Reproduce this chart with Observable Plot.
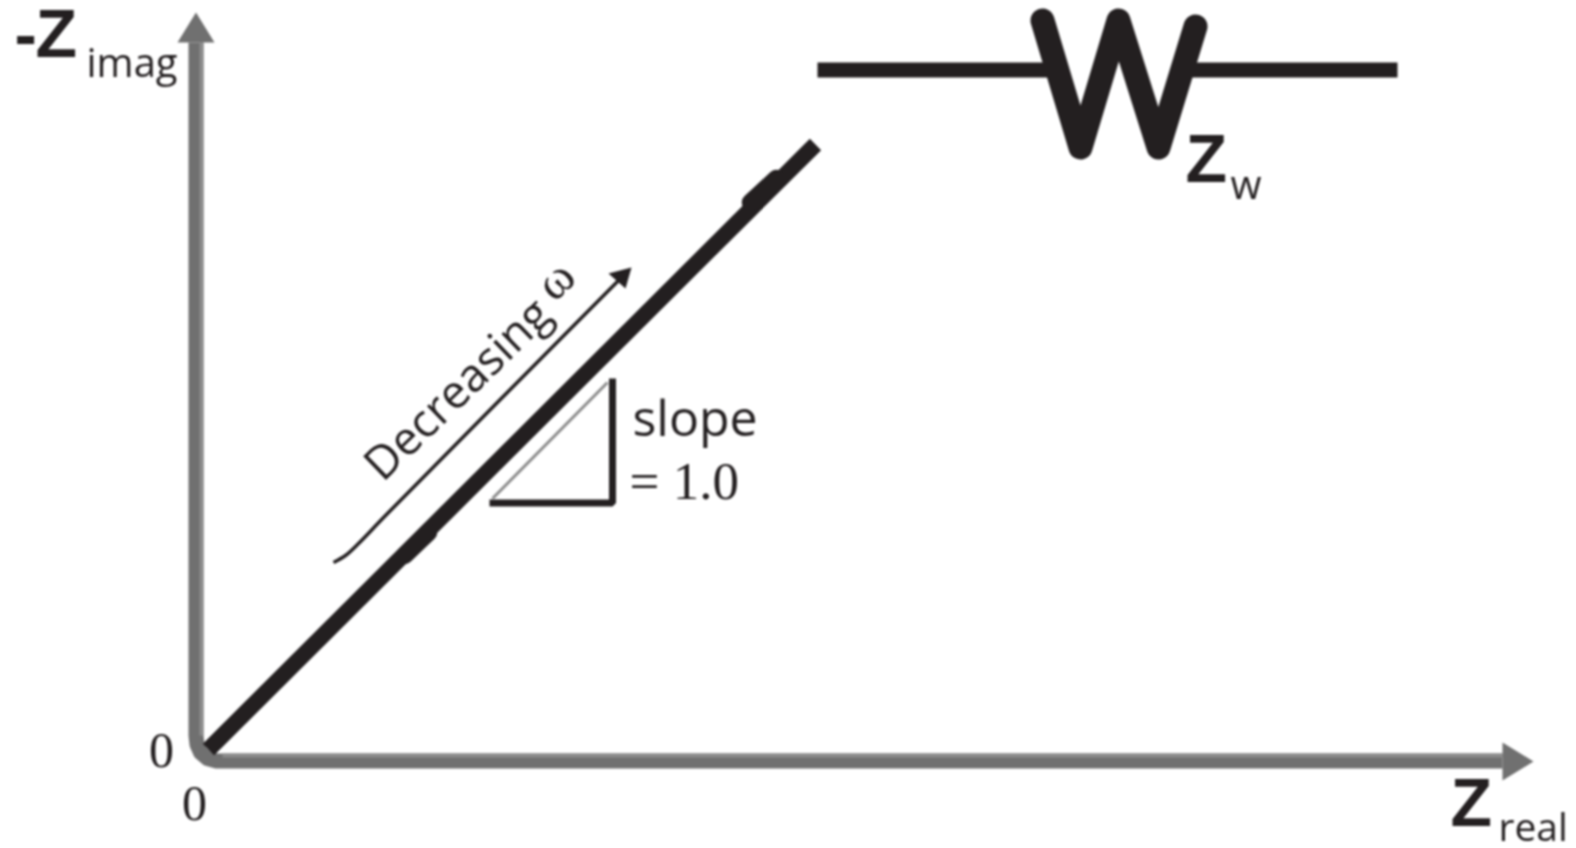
<!DOCTYPE html>
<html>
<head>
<meta charset="utf-8">
<script src="https://cdn.jsdelivr.net/npm/d3@7"></script>
<script src="https://cdn.jsdelivr.net/npm/@observablehq/plot@0.6"></script>
<style>html,body{margin:0;padding:0;background:#fff}svg{display:block;filter:blur(0.8px)}</style>
</head>
<body>
<div id="chart"></div>
<script>
const INK = "#231f20", AXIS = "#707070", AXIS_LIGHT = "#8c8c8c";
// Values in drawing units, origin at the axes' corner
const toXY = ([x, y]) => ({x: x - 195.5, y: 760.5 - y});
const yAxisPath = [[195.5,42],[195.5,735],[196.5,744],[200,752],[207,758],[216,760.5],[1502,760.5]].map(toXY);
const yAxisHead = [[195.5,12],[177,42],[214,42],[195.5,12]].map(toXY);
const xAxisHead = [[1533,761],[1502,742],[1502,780],[1533,761]].map(toXY);
const yAxisSheen = [[201,42],[201,735]].map(toXY);
const xAxisSheen = [[222,755],[1502,755]].map(toXY);
const warburg = [[208,749],[815,144]].map(toXY);
const warburgBulgeA = [[404,555],[428,532]].map(toXY);
const warburgBulgeB = [[750,202],[776,178]].map(toXY);
const wireLeft = [[817,69.5],[1050,69.5]].map(toXY);
const wireRight = [[1188,69.5],[1397,69.5]].map(toXY);
const wGlyph = [[1042,20],[1080,147],[1118,20],[1158,147],[1195,26]].map(toXY);
const triangle = [[489,502.5],[612,502.5],[612,378]].map(toXY);
const hypotenuse = [[492,498],[607,382]].map(toXY);
const freqArrow = [[333,562],[345,555],[357,544],[387,513],[622,276]].map(toXY);
const freqHead = [[631,267],[608,273],[625,288],[631,267]].map(toXY);
const sans = "'Open Sans', sans-serif", bold = "'Liberation Sans', sans-serif", serif = "'Liberation Serif', serif";
const labels = [
  {t:"-", p:[14,35], s:67, f:bold, w:700, a:"start"},
  {t:"Z", p:[35,35], s:68, f:bold, w:700, a:"start"},
  {t:"imag", p:[86,64], s:40, f:sans, w:400, a:"start"},
  {t:"Z", p:[1450,804], s:68, f:bold, w:700, a:"start"},
  {t:"real", p:[1498,828], s:39, f:sans, w:400, a:"start"},
  {t:"Z", p:[1185,160], s:68, f:bold, w:700, a:"start"},
  {t:"w", p:[1230,186], s:40, f:sans, w:400, a:"start"},
  {t:"0", p:[161,750], s:50, f:serif, w:400, a:"middle"},
  {t:"0", p:[194,803], s:50, f:serif, w:400, a:"middle"},
  {t:"slope", p:[632,419], s:50, f:sans, w:400, a:"start"},
  {t:"= 1.0", p:[629,482], s:53, f:serif, w:400, a:"start"}
].map(d => ({...d, ...toXY(d.p)}));
const slanted = [
  {t:"Decreasing", p:[372,472], s:46, f:sans, w:400, r:-44},
  {t:"ω", p:[543,291], s:50, f:serif, w:400, r:-44}
].map(d => ({...d, ...toXY(d.p)}));

const line = (data, stroke, strokeWidth, extra = {}) =>
  Plot.line(data, {x:"x", y:"y", stroke, strokeWidth, strokeLinecap:"butt", ...extra});
const fillShape = (data, fill) => Plot.line(data, {x:"x", y:"y", fill, stroke:"none"});

const plot = Plot.plot({
  width:1576, height:848, margin:0,
  x:{type:"linear", domain:[-195.5,1380.5], range:[0,1576], axis:null},
  y:{type:"linear", domain:[-87.5,760.5], range:[848,0], axis:null},
  style:{background:"#fff"},
  marks:[
    line(yAxisPath, AXIS, 15, {strokeLinejoin:"round"}),
    line(yAxisSheen, AXIS_LIGHT, 4),
    line(xAxisSheen, AXIS_LIGHT, 4),
    fillShape(yAxisHead, AXIS),
    fillShape(xAxisHead, AXIS),
    line(warburg, INK, 16),
    line(warburgBulgeA, INK, 17.5, {strokeLinecap:"round"}),
    line(warburgBulgeB, INK, 17.5, {strokeLinecap:"round"}),
    line(wireLeft, INK, 15),
    line(wireRight, INK, 15),
    line(wGlyph, INK, 24, {strokeLinecap:"round", strokeLinejoin:"round"}),
    line(triangle, INK, 7, {strokeLinejoin:"miter"}),
    line(hypotenuse, AXIS_LIGHT, 3),
    line(freqArrow, INK, 3.5, {curve:"catmull-rom"}),
    fillShape(freqHead, INK),
    ...labels.map(d => Plot.text([d], {x:"x", y:"y", text:"t", fontSize:d.s, fontFamily:d.f, fontWeight:d.w, textAnchor:d.a, fill:INK})),
    ...slanted.map(d => Plot.text([d], {x:"x", y:"y", text:"t", fontSize:d.s, fontFamily:d.f, fontWeight:d.w, rotate:d.r, textAnchor:"start", fill:INK}))
  ]
});
document.getElementById("chart").append(plot);
</script>
</body>
</html>
